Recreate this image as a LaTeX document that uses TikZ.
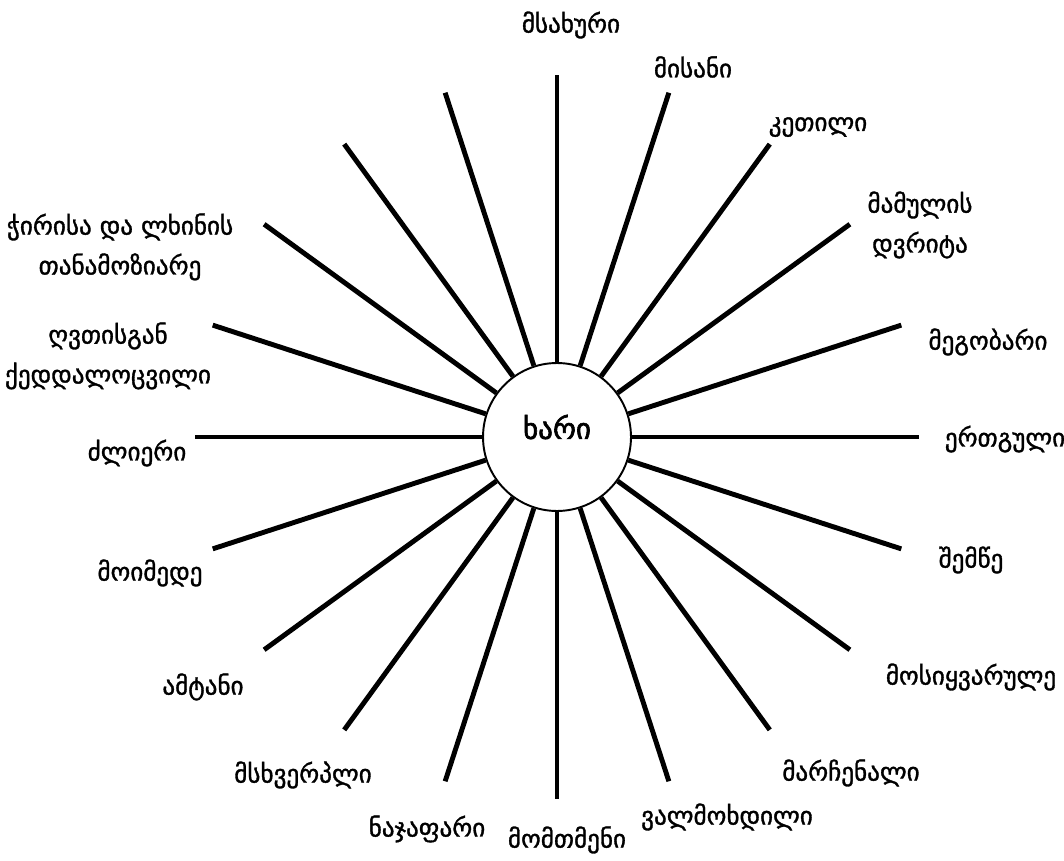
\documentclass[tikz,border=0pt]{standalone}
\usepackage{fontspec}
\setmainfont{DejaVu Sans}[BoldFont={DejaVu Sans}, BoldFeatures={FakeBold=1.3}]
\newfontfamily\hubfont{DejaVu Sans}[FakeBold=2.2]
\begin{document}
\begin{tikzpicture}[x=0.02cm, y=-0.02cm,
  spoke/.style={line width=2.8pt},
  hub/.style={circle, draw, line width=1.1pt, minimum size=2.96cm, inner sep=0pt},
  lbl/.style={align=center, font=\bfseries\fontsize{14.3}{22.7}\selectfont}]
\useasboundingbox (0,0) rectangle (1064,861);
\node[hub] (hub) at (557,437) {};
\node[font=\hubfont\fontsize{16.5}{18}\selectfont] (hubtext) at (557,427) {ხარი};
% spokes, one every 18 degrees
\foreach \a [count=\i] in {0,18,...,342}{
  \coordinate (e\i) at ({557+362*cos(\a)},{437-362*sin(\a)});
  \draw[spoke] (hub.\a) -- (e\i);
}
% labels, going round clockwise from the top
\node[lbl] (l1) at (571,25) {მსახური};
\node[lbl] (l2) at (693,67) {მისანი};
\node[lbl] (l3) at (818,127) {კეთილი};
\node[lbl] (l4) at (920,225) {მამულის\\დვრიტა};
\node[lbl] (l5) at (988,342) {მეგობარი};
\node[lbl] (l6) at (1005,439) {ერთგული};
\node[lbl] (l7) at (971,560) {შემწე};
\node[lbl] (l8) at (971,677) {მოსიყვარულე};
\node[lbl] (l9) at (851,773) {მარჩენალი};
\node[lbl] (l10) at (727,817) {ვალმოხდილი};
\node[lbl] (l11) at (567,840) {მომთმენი};
\node[lbl] (l12) at (427,829) {ნაჯაფარი};
\node[lbl] (l13) at (303,775) {მსხვერპლი};
\node[lbl] (l14) at (203,687) {ამტანი};
\node[lbl] (l15) at (150,573) {მოიმედე};
\node[lbl] (l16) at (137,453) {ძლიერი};
\node[lbl] (l17) at (108,356) {ღვთისგან\\ქედდალოცვილი};
\node[lbl] (l18) at (120,247) {ჭირისა და ლხინის\\თანამოზიარე};
\end{tikzpicture}
\end{document}
